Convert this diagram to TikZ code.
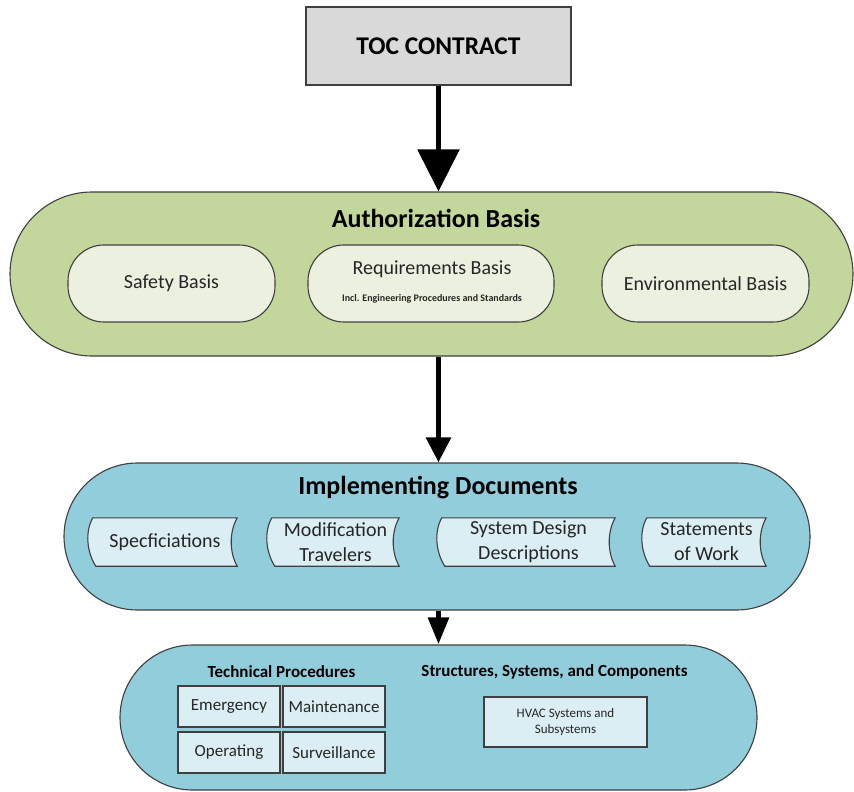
\documentclass[tikz,border=0pt]{standalone}
\usepackage{fontspec}
\setmainfont{Carlito}
\usetikzlibrary{arrows.meta}
\definecolor{bordc}{HTML}{3F3F3F}
\definecolor{tocgray}{HTML}{D9D9D9}
\definecolor{grn}{HTML}{C3D69B}
\definecolor{grnlt}{HTML}{EBF1DE}
\definecolor{blu}{HTML}{92CDDC}
\definecolor{blult}{HTML}{DAEEF3}
\definecolor{txt}{HTML}{262626}
\pgfdeclarelayer{back}
\pgfdeclarelayer{mid}
\pgfsetlayers{back,mid,main}
\newcommand{\fsz}[2]{\fontsize{#1}{#2}\selectfont}
\begin{document}
\begin{tikzpicture}[x=1pt,y=-1pt,
  outline/.style={draw=bordc, line width=1.1pt},
  bigpill/.style={outline, inner sep=0pt},
  smallpill/.style={outline, fill=grnlt, inner sep=0pt, minimum height=77pt, rounded corners=36pt, text=txt, font=\fsz{20}{24}},
  docnode/.style={inner sep=0pt, minimum height=48pt, text=txt, align=center, font=\fsz{20}{25}},
  docshape/.style={outline, fill=blult},
  procbox/.style={outline, fill=blult, inner sep=0pt, minimum width=102pt, minimum height=41pt, text=txt, font=\fsz{17}{20}},
  titletext/.style={inner sep=0pt, text=black, font=\bfseries\fsz{26}{30}},
  subtitle/.style={inner sep=0pt, text=black, font=\bfseries\fsz{17}{20}},
  bigarrow/.style={line width=5.5pt, draw=black},
]
\useasboundingbox (0,0) rectangle (854,792);

\begin{pgfonlayer}{back}
\node[bigpill, fill=grn, minimum width=843pt, minimum height=164pt, rounded corners=82pt] (auth) at (431.5,274) {};
\node[bigpill, fill=blu, minimum width=746pt, minimum height=147pt, rounded corners=73.5pt] (impl) at (437,536.5) {};
\node[bigpill, fill=blu, minimum width=637pt, minimum height=145pt, rounded corners=72.5pt] (tech) at (438.5,717.5) {};
\end{pgfonlayer}

% TOC contract
\node[outline, fill=tocgray, minimum width=265pt, minimum height=78pt, inner sep=0pt, font=\bfseries\fsz{25.5}{30}] (toc) at (438.5,46) {TOC CONTRACT};

% Authorization basis
\node[titletext] (authtitle) at (436,218) {Authorization Basis};
\node[smallpill, minimum width=207pt] (safety) at (171.5,283.5) {Safety Basis};
\node[smallpill, minimum width=246pt] (req) at (431,283.5) {};
\node[inner sep=0pt, text=txt, font=\fsz{20}{24}] (reqt) at (432,269) {Requirements Basis};
\node[inner sep=0pt, text=txt, font=\bfseries\fsz{10}{12}] (reqs) at (432,299) {Incl. Engineering Procedures and Standards};
\node[smallpill, minimum width=207pt] (env) at (705.5,283.5) {Environmental Basis};

% Implementing documents
\node[titletext] (impltitle) at (438,488) {Implementing Documents};
\node[docnode, minimum width=144pt] (spec) at (165,542) {Specficiations};
\node[docnode, minimum width=127pt] (mod) at (335.5,542) {Modification\\Travelers};
\node[docnode, minimum width=173pt] (sdd) at (528.5,542) {System Design\\Descriptions};
\node[docnode, minimum width=119pt] (sow) at (706.5,542) {Statements\\of Work};
\begin{pgfonlayer}{mid}
\foreach \n in {spec,mod,sdd,sow}{
  \path[docshape] (\n.north west)
     .. controls ([shift={(-8pt,-14pt)}]\n.north west) and ([shift={(-6pt,14pt)}]\n.south west) .. ([xshift=3pt]\n.south west)
     -- (\n.south east)
     .. controls ([shift={(-8pt,14pt)}]\n.south east) and ([shift={(-8pt,-14pt)}]\n.north east) .. (\n.north east)
     -- cycle;
}
\end{pgfonlayer}

% Technical procedures and SSCs
\node[subtitle] (tptitle) at (281.5,672) {Technical Procedures};
\node[subtitle] (ssctitle) at (554.5,672) {Structures, Systems, and Components};
\node[procbox] (emerg) at (229,706.5) {Emergency};
\node[procbox] (maint) at (334,706.5) {Maintenance};
\node[procbox] (oper) at (229,752.5) {Operating};
\node[procbox] (surv) at (334,752.5) {Surveillance};
\node[outline, fill=blult, inner sep=0pt, minimum width=163pt, minimum height=50pt, align=center, text=txt, font=\fsz{13}{16}] (hvac) at (565.5,722) {HVAC Systems and\\Subsystems};

% Arrows
\draw[bigarrow, -{Triangle[width=41pt,length=42pt]}] (toc.south) -- (toc.south |- auth.north);
\draw[bigarrow, -{Triangle[width=24pt,length=25pt]}] (toc.south |- auth.south) -- (toc.south |- impl.north);
\draw[bigarrow, -{Triangle[width=20pt,length=27pt]}] (toc.south |- impl.south) -- (toc.south |- tech.north);
\end{tikzpicture}
\end{document}
